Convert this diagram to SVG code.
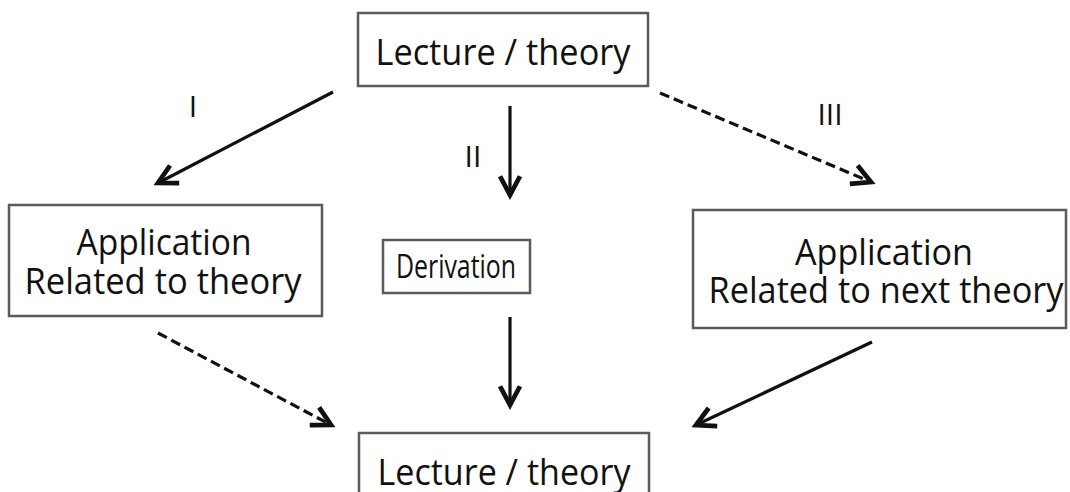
<svg xmlns="http://www.w3.org/2000/svg" width="1070" height="492" viewBox="0 0 1070 492">
  <style>
    .box { fill: #ffffff; stroke: #5a5a5a; stroke-width: 2.5; }
    .txt { font-family: "Open Sans", "Liberation Sans", sans-serif; font-size: 37px; fill: #111111; text-anchor: middle; }
    .lbl { font-family: "Open Sans", "Liberation Sans", sans-serif; font-size: 30px; fill: #111111; text-anchor: middle; }
    .arr { stroke: #111111; stroke-width: 3.2; fill: none; marker-end: url(#head); }
    .dash { stroke-dasharray: 10 5; }
  </style>
  <defs>
    <marker id="head" markerUnits="userSpaceOnUse" markerWidth="30" markerHeight="30" viewBox="-20 -12 24 24" refX="0" refY="0" orient="auto">
      <path d="M-15,-8 L0,0 L-15,8" fill="none" stroke="#111111" stroke-width="3.8" stroke-linejoin="miter"/>
    </marker>
  </defs>
  <rect width="1070" height="492" fill="#ffffff"/>

  <g id="connectors">
    <line class="arr" x1="333" y1="92" x2="158" y2="183"/>
    <line class="arr" x1="510" y1="106" x2="510" y2="195"/>
    <line class="arr dash" x1="660" y1="93" x2="871" y2="182"/>
    <line class="arr dash" x1="158" y1="333" x2="331" y2="425"/>
    <line class="arr" x1="510" y1="317" x2="510" y2="405"/>
    <line class="arr" x1="872" y1="342" x2="696" y2="425"/>
  </g>

  <g id="labels">
    <text class="lbl" x="193" y="117">I</text>
    <text class="lbl" x="473" y="167">II</text>
    <text class="lbl" x="830" y="125">III</text>
  </g>

  <g id="top-lecture">
    <rect class="box" x="358" y="13" width="290" height="73"/>
    <text class="txt" x="503" y="65" textLength="255" lengthAdjust="spacingAndGlyphs">Lecture / theory</text>
  </g>

  <g id="app-related">
    <rect class="box" x="9" y="205" width="313" height="111"/>
    <text class="txt" x="164" y="255" textLength="175" lengthAdjust="spacingAndGlyphs">Application</text>
    <text class="txt" x="163" y="294" textLength="277" lengthAdjust="spacingAndGlyphs">Related to theory</text>
  </g>

  <g id="derivation">
    <rect class="box" x="383" y="240" width="147" height="53"/>
    <text class="txt" x="456" y="278" style="font-size:32px" textLength="120" lengthAdjust="spacingAndGlyphs">Derivation</text>
  </g>

  <g id="app-next">
    <rect class="box" x="693" y="210" width="373" height="118"/>
    <text class="txt" x="884" y="265" textLength="178" lengthAdjust="spacingAndGlyphs">Application</text>
    <text class="txt" x="886" y="303" textLength="355" lengthAdjust="spacingAndGlyphs">Related to next theory</text>
  </g>

  <g id="bottom-lecture">
    <rect class="box" x="359" y="433" width="290" height="80"/>
    <text class="txt" x="504" y="485" textLength="253" lengthAdjust="spacingAndGlyphs">Lecture / theory</text>
  </g>
</svg>
